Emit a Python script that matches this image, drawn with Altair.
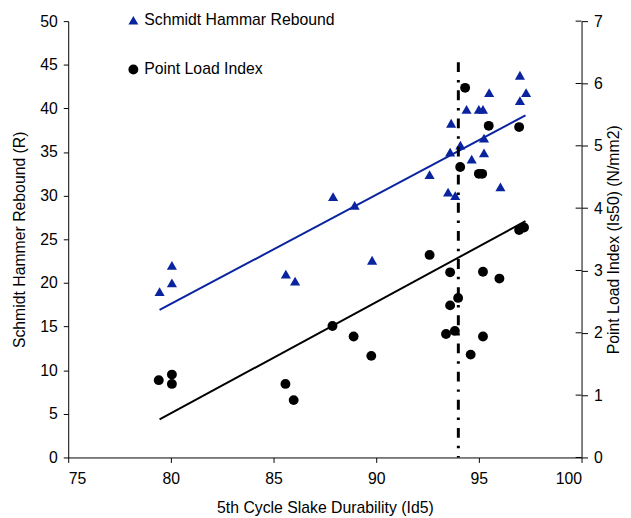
import altair as alt
import pandas as pd

FONT = "Liberation Sans"
BLUE = "#0A24A0"

# Schmidt Hammer Rebound (left axis)
sh_x = [79.45, 80.05, 80.05, 85.6, 86.05, 87.9, 88.95, 89.8, 92.6, 93.5, 93.65, 93.6, 93.85,
        94.1, 94.4, 94.65, 95.0, 95.2, 95.25, 95.25, 95.5, 96.05, 97.0, 97.0, 97.3]
sh_y = [19.0, 22.0, 20.0, 21.0, 20.2, 29.9, 28.9, 22.6, 32.4, 30.4, 38.3, 35.0, 30.0,
        35.8, 39.9, 34.2, 39.9, 39.9, 36.6, 34.9, 41.8, 31.0, 43.8, 40.9, 41.8]

# Point Load Index (right axis)
pl_x = [94.33, 95.48, 96.96, 94.09, 95.0, 95.16, 96.96, 97.2, 93.6, 95.2, 96.0, 93.99, 93.6,
        93.4, 93.83, 95.2, 94.6, 92.6, 87.87, 88.9, 79.41, 80.05, 80.05, 85.58, 85.98, 89.76]
pl_y = [5.93, 5.32, 5.30, 4.66, 4.55, 4.55, 3.65, 3.69, 2.97, 2.98, 2.87, 2.56, 2.44,
        1.98, 2.03, 1.94, 1.65, 3.25, 2.11, 1.94, 1.24, 1.33, 1.18, 1.18, 0.92, 1.63]

# trend lines (end points)
trend_x = [79.45, 97.27]
trend_sh = [16.9, 39.2]
trend_pl = [0.61, 3.79]

# vertical reference line
ref_x = [94.0]
ref_top = [45.3]

right_ticks = [0, 1, 2, 3, 4, 5, 6, 7]

series = ["Schmidt Hammar Rebound", "Point Load Index"]

df_sh = pd.DataFrame({"x": sh_x, "y": sh_y, "s": series[0]})
df_pl = pd.DataFrame({"x": pl_x, "y": pl_y, "s": series[1]})
df_tsh = pd.DataFrame({"x": trend_x, "y": trend_sh})
df_tpl = pd.DataFrame({"x": trend_x, "y": trend_pl})
df_ref = pd.DataFrame({"x": ref_x, "top": ref_top, "bottom": [0]})
df_rt = pd.DataFrame({"t": right_ticks})

xscale = alt.Scale(domain=[75, 100], nice=False, zero=False)
yl = alt.Scale(domain=[0, 50], nice=False)
yr = alt.Scale(domain=[0, 7], nice=False)

xaxis = alt.Axis(title="5th Cycle Slake Durability (Id5)", values=[75, 80, 85, 90, 95, 100],
                 format="d", grid=False, tickSize=5, labelPadding=8, titlePadding=14)
laxis = alt.Axis(title="Schmidt Hammer Rebound (R)", values=list(range(0, 51, 5)), format="d",
                 grid=False, tickSize=5, labelPadding=6, titlePadding=12)
raxis = alt.Axis(title="Point Load Index (Is50) (N/mm2)", values=right_ticks, format="d",
                 orient="right", grid=False, tickSize=6, labelPadding=6, titleAngle=270,
                 titleBaseline="top", titleX=24)

leg = alt.Legend(title=None, orient="none", legendX=58, legendY=-9, direction="vertical",
                 symbolSize=100, labelFontSize=16, labelFont=FONT, labelColor="black",
                 rowPadding=34, padding=0, labelOffset=3, symbolStrokeWidth=0, labelLimit=400)
color = alt.Color("s:N", scale=alt.Scale(domain=series, range=[BLUE, "black"]), legend=leg)
shape = alt.Shape("s:N", scale=alt.Scale(domain=series, range=["triangle-up", "circle"]),
                  legend=leg)

pts_sh = alt.Chart(df_sh).mark_point(filled=True, size=105, opacity=1).encode(
    x=alt.X("x:Q", scale=xscale, axis=xaxis),
    y=alt.Y("y:Q", scale=yl, axis=laxis),
    color=color, shape=shape)

line_sh = alt.Chart(df_tsh).mark_line(color=BLUE, strokeWidth=2).encode(
    x=alt.X("x:Q", scale=xscale), y=alt.Y("y:Q", scale=yl))

ref = alt.Chart(df_ref).mark_rule(color="black", strokeWidth=3, strokeDash=[10, 8, 2.5, 8]).encode(
    x=alt.X("x:Q", scale=xscale), y=alt.Y("top:Q", scale=yl), y2="bottom:Q")

pts_pl = alt.Chart(df_pl).mark_point(filled=True, size=100, opacity=1).encode(
    x=alt.X("x:Q", scale=xscale),
    y=alt.Y("y:Q", scale=yr, axis=raxis),
    color=color, shape=shape)

line_pl = alt.Chart(df_tpl).mark_line(color="black", strokeWidth=2).encode(
    x=alt.X("x:Q", scale=xscale), y=alt.Y("y:Q", scale=yr))

inner_ticks = alt.Chart(df_rt).mark_rule(color="black", strokeWidth=1).encode(
    x=alt.value(514), x2=alt.value(520), y=alt.Y("t:Q", scale=yr))

left = alt.layer(line_sh, pts_sh, ref)
right = alt.layer(line_pl, pts_pl, inner_ticks)

chart = alt.layer(left, right).resolve_scale(y="independent").properties(
    width=520, height=442,
    padding={"left": 61, "top": 10, "right": 42, "bottom": 58},
    autosize=alt.AutoSizeParams(type="none"),
    background="white",
).configure_view(stroke=None).configure_axis(
    labelFont=FONT, titleFont=FONT, labelFontSize=16, titleFontSize=16,
    labelColor="black", titleColor="black", titleFontWeight="normal",
    domainColor="black", tickColor="black", domainWidth=1, tickWidth=1,
)

chart.save("out.html", embed_options={"renderer": "svg", "actions": False})
